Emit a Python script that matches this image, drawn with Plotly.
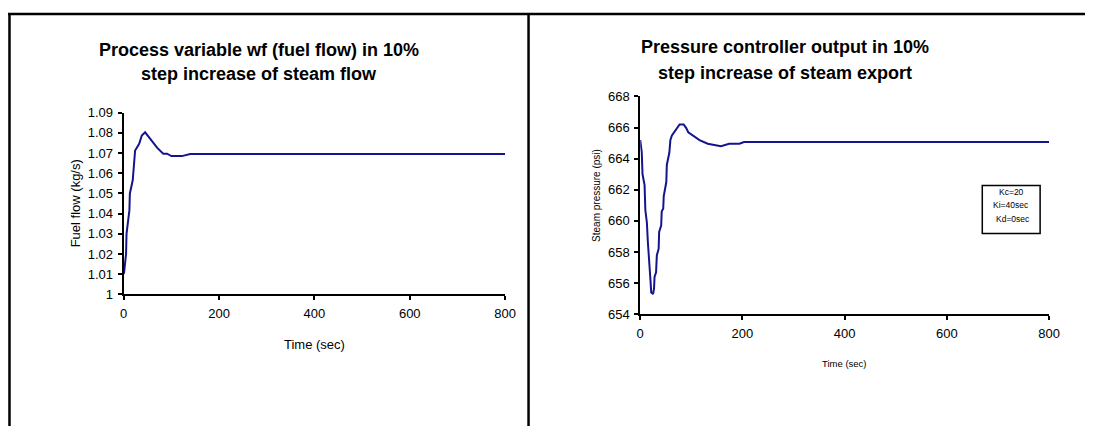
import plotly.graph_objects as go

# ---- Data (left chart: fuel flow) ----
fuel_time = [0, 1, 5, 6, 12, 13, 19, 21, 23, 24, 32.5, 38, 45, 53, 61.5, 70.5, 83, 91, 100, 122, 139.5, 160, 800]
fuel_flow = [1.010, 1.011, 1.020, 1.030, 1.0416, 1.050, 1.0565, 1.061, 1.0663, 1.0713, 1.0746, 1.0787, 1.0803,
             1.0779, 1.0754, 1.0726, 1.0697, 1.0697, 1.0685, 1.0685, 1.0695, 1.0695, 1.0695]

# ---- Data (right chart: steam pressure) ----
pres_time = [0, 0.6, 3, 4.5, 8.5, 10, 13, 15, 17, 19, 20, 21.5, 25, 27, 28, 31, 32.5, 36, 37, 41, 42, 45, 46,
             51, 52, 57, 59, 62, 66, 70, 77, 85, 90, 94, 103, 116, 132, 148, 158, 174, 194, 203, 800]
pressure = [665.2, 665.07, 664.4, 663.0, 662.3, 660.7, 659.9, 658.6, 657.8, 656.5, 656.2, 655.4, 655.3, 655.65,
            656.4, 656.7, 657.8, 658.2, 659.3, 659.7, 660.6, 660.8, 661.6, 662.5, 663.6, 664.4, 665.2, 665.5,
            665.7, 665.9, 666.2, 666.2, 665.97, 665.7, 665.5, 665.2, 664.96, 664.85, 664.8, 664.96, 664.96,
            665.07, 665.07]

x_ticks = [0, 200, 400, 600, 800]
fuel_ticks = [1, 1.01, 1.02, 1.03, 1.04, 1.05, 1.06, 1.07, 1.08, 1.09]
fuel_ticktext = ["1", "1.01", "1.02", "1.03", "1.04", "1.05", "1.06", "1.07", "1.08", "1.09"]
pres_ticks = [654, 656, 658, 660, 662, 664, 666, 668]

title_left = ["Process variable wf (fuel flow) in 10%", "step increase of steam flow"]
title_right = ["Pressure controller output in 10%", "step increase of steam export"]
box_lines = ["Kc=20", "Ki=40sec", "Kd=0sec"]

FONT = "Liberation Sans, Arial, sans-serif"
LINE = "#14148c"

# placement of the figure inside the photographed picture (pixels)
X0, X1, Y0, Y1 = 1.0, 1085.0, 6.0, 426.0


def px(x):
    return min(max((x - X0) / (X1 - X0), 0.0), 1.0)


def py(y):
    return min(max(1 - (y - Y0) / (Y1 - Y0), 0.0), 1.0)


fig = go.Figure()
fig.add_trace(go.Scatter(x=fuel_time, y=fuel_flow, mode="lines", xaxis="x", yaxis="y",
                         line=dict(color=LINE, width=2), showlegend=False, hoverinfo="skip"))
fig.add_trace(go.Scatter(x=pres_time, y=pressure, mode="lines", xaxis="x2", yaxis="y2",
                         line=dict(color=LINE, width=2), showlegend=False, hoverinfo="skip"))

axis_common = dict(showline=True, linecolor="black", linewidth=2, showgrid=False, zeroline=False,
                   ticks="outside", ticklen=4, tickwidth=1.5, tickcolor="black",
                   tickfont=dict(family=FONT, size=13, color="black"), fixedrange=True)

fig.update_layout(
    autosize=True, margin=dict(l=0, r=0, t=0, b=0),
    paper_bgcolor="white", plot_bgcolor="white",
    xaxis=dict(domain=[px(121), px(503.5)], range=[0, 800], tickvals=x_ticks, anchor="y",
               ticklabelstandoff=2, **axis_common),
    yaxis=dict(domain=[py(294), py(112)], range=[1, 1.09], tickvals=fuel_ticks, ticktext=fuel_ticktext,
               anchor="x", ticklabelstandoff=2, **axis_common),
    xaxis2=dict(domain=[px(639), px(1049)], range=[0, 800], tickvals=x_ticks, anchor="y2",
                ticklabelstandoff=2, **axis_common),
    yaxis2=dict(domain=[py(314), py(95.7)], range=[654, 668], tickvals=pres_ticks, anchor="x2",
                ticklabelstandoff=2, **axis_common),
)

ann = []
for text, yy in zip(title_left, [49, 73]):
    ann.append(dict(text="<b>%s</b>" % text, x=px(257), y=py(yy), xref="paper", yref="paper",
                    showarrow=False, font=dict(family=FONT, size=18, color="black"),
                    xanchor="center", yanchor="middle"))
for text, yy in zip(title_right, [46, 72]):
    ann.append(dict(text="<b>%s</b>" % text, x=px(784), y=py(yy), xref="paper", yref="paper",
                    showarrow=False, font=dict(family=FONT, size=18, color="black"),
                    xanchor="center", yanchor="middle"))
ann.append(dict(text="Fuel flow (kg/s)", x=px(73), y=py(203), xref="paper", yref="paper", textangle=-90,
                showarrow=False, font=dict(family=FONT, size=13, color="black"),
                xanchor="center", yanchor="middle"))
ann.append(dict(text="Time (sec)", x=px(312), y=py(344), xref="paper", yref="paper",
                showarrow=False, font=dict(family=FONT, size=13, color="black"),
                xanchor="center", yanchor="middle"))
ann.append(dict(text="Steam pressure (psi)", x=px(595), y=py(195), xref="paper", yref="paper", textangle=-90,
                showarrow=False, font=dict(family=FONT, size=10, color="black"),
                xanchor="center", yanchor="middle"))
ann.append(dict(text="Time (sec)", x=px(844), y=py(363), xref="paper", yref="paper",
                showarrow=False, font=dict(family=FONT, size=9.5, color="black"),
                xanchor="center", yanchor="middle"))
for text, (xx, yy) in zip(box_lines, [(1011.5, 191), (1010.5, 204.5), (1012.5, 219)]):
    ann.append(dict(text=text, x=px(xx), y=py(yy), xref="paper", yref="paper",
                    showarrow=False, font=dict(family=FONT, size=8.5, color="black"),
                    xanchor="center", yanchor="middle"))
fig.update_layout(annotations=ann)

shapes = [
    dict(type="line", x0=px(5), x1=px(1096), y0=py(13), y1=py(13), xref="paper", yref="paper",
         line=dict(color="black", width=2.5)),
    dict(type="line", x0=px(6.5), x1=px(6.5), y0=py(12), y1=py(434), xref="paper", yref="paper",
         line=dict(color="black", width=2.5)),
    dict(type="line", x0=px(527), x1=px(527), y0=py(12), y1=py(434), xref="paper", yref="paper",
         line=dict(color="black", width=2.5)),
    dict(type="rect", x0=px(982), x1=px(1040), y0=py(185), y1=py(233), xref="paper", yref="paper",
         line=dict(color="black", width=1.5), fillcolor="rgba(0,0,0,0)"),
]
fig.update_layout(shapes=shapes)

fig.write_html("out.html", config={"displayModeBar": False, "responsive": True},
               default_width="100vw", default_height="100vh",
               post_script="document.documentElement.style.margin='0';document.body.style.margin='0';"
                           "document.body.style.overflow='hidden';"
                           "document.documentElement.style.overflow='hidden';"
                           "var gd=document.getElementById('{plot_id}');Plotly.Plots.resize(gd);")
